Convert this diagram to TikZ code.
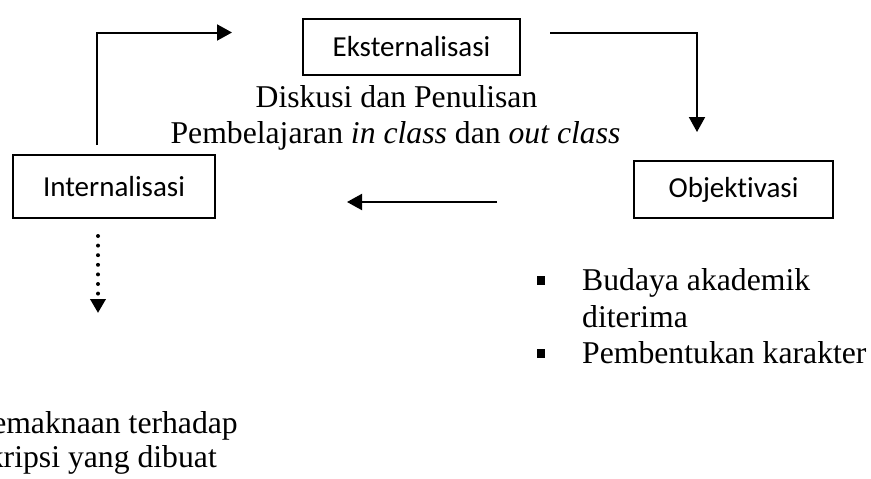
\documentclass[tikz,border=0pt]{standalone}
\usepackage{fontspec}
\setmainfont{Liberation Serif}
\newfontfamily\boxfont[Ligatures=NoCommon]{Carlito}
\usetikzlibrary{arrows.meta}
\tikzset{
  boxnode/.style={draw=black, line width=1.8pt, inner sep=0pt, font=\boxfont\fontsize{29}{34}\selectfont},
  txt/.style={inner sep=0pt, font=\fontsize{31.7}{36.5}\selectfont},
  conn/.style={line width=2pt, -{Triangle[length=15pt,width=16pt]}},
  dotconn/.style={line width=4pt, line cap=round, dash pattern=on 0pt off 9.6pt, -{Triangle[length=14pt,width=15pt]}},
  bulletsq/.style={fill=black, inner sep=0pt, minimum size=8.5pt}
}
\begin{document}
\begin{tikzpicture}[x=1pt,y=-1pt]
\useasboundingbox (0,0) rectangle (871,479);
\clip (0,0) rectangle (871,479);
% boxes
\node[boxnode, minimum width=217pt, minimum height=56pt] (eks) at (411.5,47) {Eksternalisasi};
\node[boxnode, minimum width=202pt, minimum height=63pt] (int) at (114,186.5) {Internalisasi};
\node[boxnode, minimum width=199pt, minimum height=57pt] (obj) at (733.5,189.5) {Objektivasi};
% texts
\node[txt, anchor=base] (t1) at (396.5,107) {Diskusi dan Penulisan};
\node[txt, anchor=base] (t2) at (395.5,143) {Pembelajaran \textit{in class} dan \textit{out class}};
\node[bulletsq] (b1) at (541,280.5) {};
\node[txt, anchor=base west] (t3) at (582,290) {Budaya akademik};
\node[txt, anchor=base west] (t4) at (582,327) {diterima};
\node[bulletsq] (b2) at (541,353.5) {};
\node[txt, anchor=base west] (t5) at (582,363) {Pembentukan karakter};
\node[txt, anchor=base east] (t6) at (238,433) {Pemaknaan terhadap};
\node[txt, anchor=base east] (t7) at (217,467) {skripsi yang dibuat};
% connector coordinates
\coordinate (c1s) at (97,145);
\coordinate (c1e) at (232,32.5);
\coordinate (c2s) at (550,32.5);
\coordinate (c2e) at (697,132);
\coordinate (c3s) at (497,202);
\coordinate (c3e) at (347,202);
\coordinate (c4s) at (98,236);
\coordinate (c4e) at (98,313);
\draw[conn] (c1s) |- (c1e);
\draw[conn] (c2s) -| (c2e);
\draw[conn] (c3s) -- (c3e);
\draw[dotconn] (c4s) -- (c4e);
\end{tikzpicture}
\end{document}
